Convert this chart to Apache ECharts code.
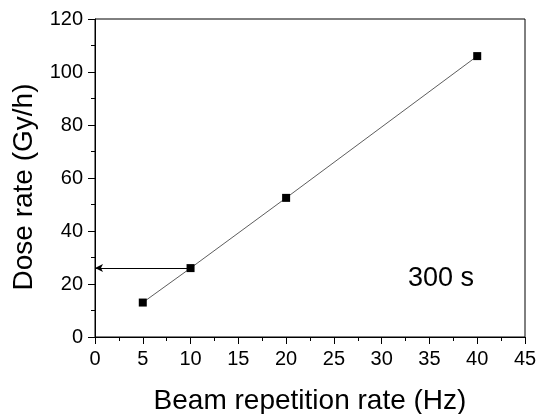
<!DOCTYPE html>
<html>
<head>
<meta charset="utf-8">
<script src="https://cdn.jsdelivr.net/npm/echarts@6/dist/echarts.min.js"></script>
<style>
  html, body { margin: 0; padding: 0; background: #fff; }
  #chart { width: 537px; height: 414px; }
</style>
</head>
<body>
<div id="chart"></div>
<script>
// repetition rate (Hz) vs dose rate (Gy/h)
const repRate = [5, 10, 20, 40];
const doseRate = [13, 26, 52.5, 106];
// arrow from the 10 Hz point back to the y axis
const arrowFrom = [10, 26];
const arrowTo = [0, 26];
const noteText = "300 s";

const font = "Liberation Sans, Arial, sans-serif";

const chart = echarts.init(document.getElementById("chart"));

chart.setOption({
  animation: false,
  grid: {
    left: 95, top: 19, right: 12, bottom: 77,
    outerBoundsMode: "none",
    containLabel: false,
    show: true, borderColor: "#000", borderWidth: 1,
  },
  xAxis: {
    type: "value",
    min: 0, max: 45, interval: 5,
    name: "Beam repetition rate (Hz)",
    nameLocation: "middle",
    nameGap: 50,
    nameTextStyle: { fontFamily: font, fontSize: 28, color: "#000" },
    axisLine: { show: true, onZero: false, lineStyle: { color: "#000", width: 1 } },
    axisTick: { show: true, length: 7, lineStyle: { color: "#000" } },
    minorTick: { show: true, splitNumber: 2, length: 4, lineStyle: { color: "#000" } },
    axisLabel: { fontFamily: font, fontSize: 20, color: "#000", margin: 12 },
    splitLine: { show: false },
  },
  yAxis: {
    type: "value",
    min: 0, max: 120, interval: 20,
    name: "Dose rate (Gy/h)",
    nameLocation: "middle",
    nameGap: 57,
    nameTextStyle: { fontFamily: font, fontSize: 28, color: "#000", padding: [0, 18, 0, 0] },
    axisLine: { show: true, onZero: false, lineStyle: { color: "#000", width: 1 } },
    axisTick: { show: true, length: 7, lineStyle: { color: "#000" } },
    minorTick: { show: true, splitNumber: 2, length: 4, lineStyle: { color: "#000" } },
    axisLabel: { fontFamily: font, fontSize: 20, color: "#000", margin: 12 },
    splitLine: { show: false },
  },
  series: [
    {
      type: "line",
      data: repRate.map((x, i) => [x, doseRate[i]]),
      symbol: "rect",
      symbolSize: 8,
      itemStyle: { color: "#000" },
      lineStyle: { color: "#333", width: 0.8 },
      markLine: {
        silent: true,
        symbol: ["none", "arrow"],
        symbolSize: [6, 8],
        label: { show: false },
        lineStyle: { color: "#000", width: 1, type: "solid" },
        data: [[{ coord: arrowFrom }, { coord: arrowTo }]],
      },
    },
  ],
  graphic: [
    {
      type: "text",
      left: 408,
      top: 265,
      style: { text: noteText, font: "27px " + font, fill: "#000" },
    },
  ],
});
</script>
</body>
</html>
